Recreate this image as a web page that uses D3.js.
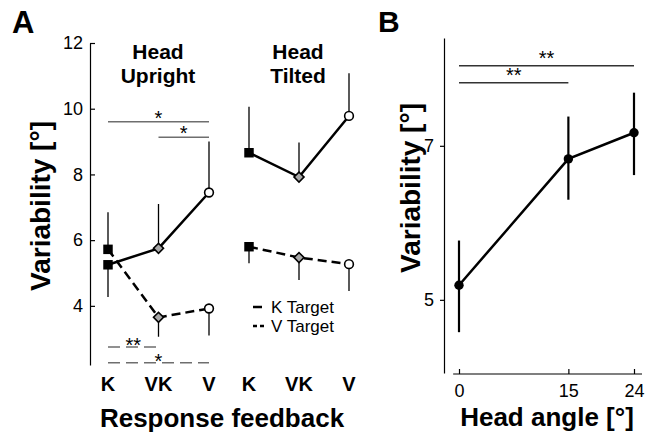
<!DOCTYPE html>
<html>
<head>
<meta charset="utf-8">
<script src="https://cdn.jsdelivr.net/npm/d3@7"></script>
<style>
  body { margin: 0; background: #fff; }
  svg { font-family: Arial, "Liberation Sans", sans-serif; }
</style>
</head>
<body>
<svg width="649" height="433"></svg>
<script>
//*
//* Data
//*

var feedback = ["K", "VK", "V"];

// panel A, head upright
var uprightK = [5.25, 5.75, 7.45];
var uprightKErrEnd = [4.27, 7.1, 9.0];
var uprightV = [5.72, 3.65, 3.92];
var uprightVErrEnd = [6.85, 3.06, 3.1];

// panel A, head tilted
var tiltedK = [8.66, 7.92, 9.78];
var tiltedKErrEnd = [10.06, 8.97, 11.08];
var tiltedV = [5.8, 5.47, 5.27];
var tiltedVErrEnd = [5.3, 4.79, 4.45];

var yTicksA = [4, 6, 8, 10, 12];

// panel B
var headAngle = [0, 15, 24];
var angleVar = [5.19, 6.83, 7.17];
var angleErrLow = [4.58, 6.3, 6.62];
var angleErrHigh = [5.77, 7.38, 7.69];
var yTicksB = [5, 7];

var svg = d3.select("svg");
var gray = "#6e6e6e";

//*
//* Panel A
//*

var xUp = d3.scalePoint().domain(feedback).range([108, 209]);
var xTilt = d3.scalePoint().domain(feedback).range([249, 349]);
var yA = d3.scaleLinear().domain([2.2, 12]).range([365, 43]);

svg.append("g")
	.attr("transform", "translate(90,0)")
	.call(d3.axisLeft(yA).tickValues(yTicksA).tickFormat(d3.format("d")).tickSizeInner(-5).tickSizeOuter(0).tickPadding(7))
	.call(function(g) {
		g.selectAll("text").attr("font-size", 18).attr("font-family", "Arial, 'Liberation Sans', sans-serif");
		g.selectAll("line, path").attr("stroke", "#000").attr("stroke-width", 1.2);
	});

/* x labels */
[xUp, xTilt].forEach(function(sc) {
	svg.append("g").selectAll("text")
		.data(feedback)
		.enter()
		.append("text")
		.attr("x", function(d) { return sc(d); })
		.attr("y", 391)
		.attr("text-anchor", "middle")
		.attr("font-size", 20)
		.attr("font-weight", "bold")
		.text(function(d) { return d; });
});

svg.append("text")
	.attr("x", 222).attr("y", 427)
	.attr("text-anchor", "middle")
	.attr("font-size", 26).attr("font-weight", "bold")
	.text("Response feedback");

svg.append("text")
	.attr("transform", "translate(50,206) rotate(-90)")
	.attr("text-anchor", "middle")
	.attr("font-size", 28).attr("font-weight", "bold")
	.text("Variability [°]");

/* condition titles */
[["Head", "Upright", 158], ["Head", "Tilted", 298]].forEach(function(t) {
	var tx = svg.append("text")
		.attr("text-anchor", "middle")
		.attr("font-size", 21).attr("font-weight", "bold");
	tx.append("tspan").attr("x", t[2]).attr("y", 59).text(t[0]);
	tx.append("tspan").attr("x", t[2]).attr("y", 83).text(t[1]);
});

/* significance bars */
function sigBar(x1, x2, y, label, dashed, color, starY) {
	svg.append("line")
		.attr("x1", x1).attr("x2", x2)
		.attr("y1", y).attr("y2", y)
		.attr("stroke", color)
		.attr("stroke-width", 1.5)
		.attr("stroke-dasharray", dashed ? "12,6" : null);
	svg.append("text")
		.attr("x", (x1 + x2) / 2)
		.attr("y", starY)
		.attr("text-anchor", "middle")
		.attr("font-size", 20)
		.text(label);
}
sigBar(xUp("K"), xUp("V"), yA(9.6), "*", false, gray, yA(9.6) + 3);
sigBar(xUp("VK"), xUp("V"), yA(9.13), "*", false, gray, yA(9.13) + 3);
sigBar(xUp("K"), xUp("VK"), yA(2.75), "**", true, gray, yA(2.75) + 5);
sigBar(xUp("K"), xUp("V"), yA(2.27), "*", true, gray, yA(2.27) + 5);

/* series */
function drawSeries(sc, vals, errEnd, dashed) {
	var pts = feedback.map(function(d, i) { return { c: d, v: vals[i], e: errEnd[i], i: i }; });
	var g = svg.append("g");
	g.selectAll("line.err")
		.data(pts)
		.enter()
		.append("line")
		.attr("class", "err")
		.attr("x1", function(d) { return sc(d.c); })
		.attr("x2", function(d) { return sc(d.c); })
		.attr("y1", function(d) { return yA(d.v); })
		.attr("y2", function(d) { return yA(d.e); })
		.attr("stroke", "#000")
		.attr("stroke-width", 1.3);
	g.append("path")
		.datum(pts)
		.attr("d", d3.line().x(function(d) { return sc(d.c); }).y(function(d) { return yA(d.v); }))
		.attr("fill", "none")
		.attr("stroke", "#000")
		.attr("stroke-width", 2.5)
		.attr("stroke-dasharray", dashed ? "9,5" : null);
	var size = [90, 50, 60];
	var rot = [0, 45, 0];
	var sym = [d3.symbolSquare, d3.symbolSquare, d3.symbolCircle];
	var fill = ["#000", "#a8a8a8", "#fff"];
	g.selectAll("path.mk")
		.data(pts)
		.enter()
		.append("path")
		.attr("class", "mk")
		.attr("transform", function(d) { return "translate(" + sc(d.c) + "," + yA(d.v) + ") rotate(" + rot[d.i] + ")"; })
		.attr("d", function(d) { return d3.symbol().type(sym[d.i]).size(size[d.i])(); })
		.attr("fill", function(d) { return fill[d.i]; })
		.attr("stroke", "#000")
		.attr("stroke-width", function(d) { return d.i === 0 ? 0 : 1.6; });
}
drawSeries(xUp, uprightK, uprightKErrEnd, false);
drawSeries(xUp, uprightV, uprightVErrEnd, true);
drawSeries(xTilt, tiltedK, tiltedKErrEnd, false);
drawSeries(xTilt, tiltedV, tiltedVErrEnd, true);

/* legend */
var legend = svg.append("g");
[["K Target", false, 307, 313], ["V Target", true, 326, 332]].forEach(function(l) {
	legend.append("line")
		.attr("x1", 253).attr("x2", l[1] ? 264 : 262)
		.attr("y1", l[2]).attr("y2", l[2])
		.attr("stroke", "#000").attr("stroke-width", 2.5)
		.attr("stroke-dasharray", l[1] ? "4,3" : null);
	legend.append("text")
		.attr("x", 271).attr("y", l[3])
		.attr("font-size", 17)
		.text(l[0]);
});

//*
//* Panel B
//*

var xB = d3.scaleLinear().domain([0, 24]).range([459, 634]);
var yB = d3.scaleLinear().domain([4.05, 8.4]).range([373, 38]);

svg.append("g")
	.attr("transform", "translate(444,0)")
	.call(d3.axisLeft(yB).tickValues(yTicksB).tickFormat(d3.format("d")).tickSizeInner(4).tickSizeOuter(0).tickPadding(6))
	.call(function(g) {
		g.selectAll("text").attr("font-size", 18).attr("font-family", "Arial, 'Liberation Sans', sans-serif");
		g.selectAll("line, path").attr("stroke", "#000").attr("stroke-width", 1.2);
	});

svg.append("g")
	.attr("transform", "translate(0,374)")
	.call(d3.axisBottom(xB).tickValues(headAngle).tickFormat(d3.format("d")).tickSizeInner(-5).tickSizeOuter(0).tickPadding(10))
	.call(function(g) {
		g.select(".domain").remove();
		g.selectAll("text").attr("font-size", 18).attr("font-family", "Arial, 'Liberation Sans', sans-serif");
		g.selectAll("line").attr("stroke", "#000").attr("stroke-width", 1.2);
		g.append("line")
			.attr("x1", xB(-0.8)).attr("x2", xB(25.1))
			.attr("stroke", "#000").attr("stroke-width", 1.2);
	});

svg.append("text")
	.attr("x", 547).attr("y", 426)
	.attr("text-anchor", "middle")
	.attr("font-size", 26).attr("font-weight", "bold")
	.text("Head angle [°]");

svg.append("text")
	.attr("transform", "translate(420,188) rotate(-90)")
	.attr("text-anchor", "middle")
	.attr("font-size", 28).attr("font-weight", "bold")
	.text("Variability [°]");

sigBar(xB(0), xB(24), yB(8.04), "**", false, "#333", yB(8.04) - 1);
sigBar(xB(0), xB(15), yB(7.82), "**", false, "#333", yB(7.82) - 1);

var ptsB = headAngle.map(function(a, i) { return { a: a, v: angleVar[i], lo: angleErrLow[i], hi: angleErrHigh[i] }; });
svg.append("g").selectAll("line")
	.data(ptsB)
	.enter()
	.append("line")
	.attr("x1", function(d) { return xB(d.a); })
	.attr("x2", function(d) { return xB(d.a); })
	.attr("y1", function(d) { return yB(d.lo); })
	.attr("y2", function(d) { return yB(d.hi); })
	.attr("stroke", "#000")
	.attr("stroke-width", 2.2);
svg.append("path")
	.datum(ptsB)
	.attr("d", d3.line().x(function(d) { return xB(d.a); }).y(function(d) { return yB(d.v); }))
	.attr("fill", "none")
	.attr("stroke", "#000")
	.attr("stroke-width", 2.5);
svg.append("g").selectAll("circle")
	.data(ptsB)
	.enter()
	.append("circle")
	.attr("cx", function(d) { return xB(d.a); })
	.attr("cy", function(d) { return yB(d.v); })
	.attr("r", 4.7)
	.attr("fill", "#000");

/* panel letters */
svg.append("text").attr("x", 12).attr("y", 33)
	.attr("font-size", 31).attr("font-weight", "bold").text("A");
svg.append("text").attr("x", 378).attr("y", 32)
	.attr("font-size", 30).attr("font-weight", "bold").text("B");
</script>
</body>
</html>
